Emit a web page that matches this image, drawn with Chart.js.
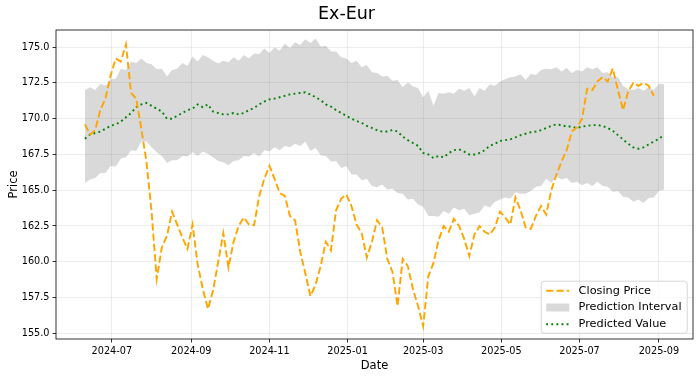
<!DOCTYPE html>
<html>
<head>
<meta charset="utf-8">
<script src="https://cdn.jsdelivr.net/npm/chart.js@4.4.1/dist/chart.umd.min.js"></script>
<style>
  body { margin: 0; background: #fff; }
  #wrap { width: 700px; height: 378px; }
</style>
</head>
<body>
<div id="wrap"><canvas id="chrt" width="700" height="378"></canvas></div>
<script>
// sample dates (every 4 days)
var dates = [
  "2024-06-10","2024-06-14","2024-06-18","2024-06-22","2024-06-26","2024-06-30",
  "2024-07-04","2024-07-08","2024-07-12","2024-07-16","2024-07-20","2024-07-24","2024-07-28",
  "2024-08-01","2024-08-05","2024-08-09","2024-08-13","2024-08-17","2024-08-21","2024-08-25","2024-08-29",
  "2024-09-02","2024-09-06","2024-09-10","2024-09-14","2024-09-18","2024-09-22","2024-09-26","2024-09-30",
  "2024-10-04","2024-10-08","2024-10-12","2024-10-16","2024-10-20","2024-10-24","2024-10-28",
  "2024-11-01","2024-11-05","2024-11-09","2024-11-13","2024-11-17","2024-11-21","2024-11-25","2024-11-29",
  "2024-12-03","2024-12-07","2024-12-11","2024-12-15","2024-12-19","2024-12-23","2024-12-27","2024-12-31",
  "2025-01-04","2025-01-08","2025-01-12","2025-01-16","2025-01-20","2025-01-24","2025-01-28",
  "2025-02-01","2025-02-05","2025-02-09","2025-02-13","2025-02-17","2025-02-21","2025-02-25",
  "2025-03-01","2025-03-05","2025-03-09","2025-03-13","2025-03-17","2025-03-21","2025-03-25","2025-03-29",
  "2025-04-02","2025-04-06","2025-04-10","2025-04-14","2025-04-18","2025-04-22","2025-04-26","2025-04-30",
  "2025-05-04","2025-05-08","2025-05-12","2025-05-16","2025-05-20","2025-05-24","2025-05-28",
  "2025-06-01","2025-06-05","2025-06-09","2025-06-13","2025-06-17","2025-06-21","2025-06-25","2025-06-29",
  "2025-07-03","2025-07-07","2025-07-11","2025-07-15","2025-07-19","2025-07-23","2025-07-27","2025-07-31",
  "2025-08-04","2025-08-08","2025-08-12","2025-08-16","2025-08-20","2025-08-24","2025-08-28",
  "2025-09-01","2025-09-05"
];

var closingPrice = [
  169.6,168.9,169.2,170.6,171.4,173.0,
  174.2,174.0,175.2,171.8,171.4,169.3,167.0,
  163.5,158.8,161.0,161.8,163.5,162.6,161.7,160.9,
  162.6,159.8,158.1,156.7,158.0,160.0,162.0,159.6,
  161.4,162.5,163.1,162.6,162.55,164.6,165.8,
  166.7,165.8,164.8,164.6,163.2,162.9,160.7,159.2,
  157.6,158.4,159.7,161.4,160.8,163.6,164.4,164.7,
  163.9,162.6,162.0,160.3,161.4,162.9,162.4,
  160.2,159.3,156.9,160.2,159.7,158.1,156.9,
  155.5,159.0,159.9,161.5,162.5,162.1,163.0,162.5,
  161.6,160.4,161.9,162.5,162.1,161.9,162.4,163.5,
  163.1,162.6,164.5,163.6,162.4,162.3,163.2,
  163.9,163.3,165.0,166.1,167.0,167.8,169.1,169.4,
  170.0,172.1,172.0,172.6,172.9,172.6,173.5,172.0,
  170.6,171.9,172.5,172.3,172.5,172.3,171.6,
  null,null
];

var upperBound = [
  172.0,172.2,172.0,172.45,172.3,172.75,
  172.8,173.5,173.4,174.0,173.9,174.2,173.9,
  173.8,173.45,173.5,172.95,173.4,173.5,173.9,173.7,
  174.35,174.0,174.45,174.3,174.05,173.85,174.05,173.95,
  174.3,174.05,174.45,174.2,174.55,174.5,174.9,
  174.6,175.0,174.75,175.25,174.95,175.35,175.15,175.55,
  175.3,175.6,175.05,175.1,174.7,174.7,174.3,174.2,
  173.9,174.05,173.6,173.75,173.25,173.2,172.95,
  173.0,172.65,172.7,172.2,172.55,172.25,172.15,
  171.5,171.95,170.9,171.8,171.75,171.85,171.75,172.1,
  171.95,172.15,171.55,172.15,171.95,172.4,172.3,172.6,
  172.75,172.9,172.95,173.1,172.7,173.15,173.05,
  173.4,173.5,173.45,173.6,173.3,173.55,173.2,173.4,
  173.3,173.6,173.45,173.6,173.2,173.25,172.9,172.9,
  172.3,172.05,172.0,172.15,171.95,172.2,172.0,
  172.45,172.4
];

var lowerBound = [
  165.5,165.75,165.85,166.2,166.2,166.7,
  166.65,167.2,167.3,167.8,167.75,168.4,168.4,
  168.0,167.65,167.4,166.9,167.1,167.1,167.4,167.35,
  167.65,167.4,167.7,167.55,167.3,167.05,166.95,166.75,
  167.05,167.1,167.4,167.35,167.6,167.35,167.8,
  167.7,168.0,167.8,168.1,168.0,168.25,168.1,168.4,
  167.75,167.95,167.45,167.4,167.0,167.05,166.55,166.7,
  166.1,166.1,165.7,165.8,165.3,165.2,165.4,
  165.05,165.1,164.8,164.75,164.35,164.4,164.0,
  163.85,163.2,163.2,163.15,163.55,163.35,163.8,163.6,
  163.7,163.25,163.35,163.45,163.95,163.8,164.2,164.35,
  164.5,164.4,164.85,164.75,164.75,164.95,165.25,
  165.3,165.8,165.5,165.95,165.75,165.85,165.5,165.6,
  165.35,165.5,165.3,165.6,165.3,165.25,164.9,164.95,
  164.55,164.5,164.2,164.35,164.1,164.45,164.5,
  164.95,165.05
];

var predictedValue = [
  168.6,168.9,169.0,169.1,169.3,169.5,
  169.6,169.8,170.1,170.4,170.8,171.0,171.1,
  170.9,170.7,170.5,170.0,170.0,170.2,170.4,170.6,
  170.7,171.0,170.8,171.0,170.5,170.4,170.3,170.3,
  170.4,170.3,170.4,170.6,170.75,171.0,171.2,
  171.35,171.4,171.5,171.6,171.7,171.75,171.8,171.85,
  171.7,171.5,171.3,171.0,170.85,170.6,170.4,170.2,
  170.0,169.85,169.7,169.5,169.35,169.2,169.1,
  169.1,169.2,169.1,168.75,168.5,168.3,168.1,
  167.6,167.5,167.25,167.4,167.3,167.6,167.8,167.85,
  167.7,167.5,167.5,167.6,167.8,168.1,168.25,168.45,
  168.5,168.55,168.7,168.85,168.95,169.05,169.1,
  169.2,169.35,169.5,169.6,169.55,169.45,169.45,169.35,
  169.45,169.5,169.55,169.55,169.5,169.35,169.15,168.85,
  168.55,168.25,168.0,167.9,168.0,168.2,168.4,
  168.6,168.85
];

var xTickLabels = ["2024-07","2024-09","2024-11","2025-01","2025-03","2025-05","2025-07","2025-09"];
var yTicks = [155.0,157.5,160.0,162.5,165.0,167.5,170.0,172.5,175.0];

function pts(vals) {
  return vals.map(function(v, i) { return { x: Date.parse(dates[i]), y: v }; });
}

var firstDay = Date.parse(dates[0]);
var lastDay = Date.parse(dates[dates.length - 1]);
var span = lastDay - firstDay;

var fontFam = "'DejaVu Sans', sans-serif";
var bandColor = "rgba(128,128,128,0.3)";

// matplotlib-like frame on all four sides
var frame = {
  id: 'frame',
  afterDatasetsDraw: function(chart) {
    var a = chart.chartArea, ctx = chart.ctx;
    ctx.save();
    ctx.strokeStyle = "#000";
    ctx.lineWidth = 0.8;
    ctx.strokeRect(a.left, a.top, a.right - a.left, a.bottom - a.top);
    ctx.restore();
  }
};

// legend box in the lower right corner of the plot
var legendBox = {
  id: 'legendBox',
  afterDraw: function(chart) {
    var a = chart.chartArea, ctx = chart.ctx;
    var w = 146, h = 52;
    var x0 = a.right - 5.8 - w, y0 = a.bottom - 5.8 - h;
    ctx.save();
    ctx.beginPath();
    ctx.roundRect(x0, y0, w, h, 3);
    ctx.fillStyle = "rgba(255,255,255,0.8)";
    ctx.fill();
    ctx.strokeStyle = "#cccccc";
    ctx.lineWidth = 0.8;
    ctx.stroke();

    var ds = chart.data.datasets;
    var items = [ds[0], ds[2], ds[3]];
    items.forEach(function(d, k) {
      var y = y0 + 9.5 + k * 16.8;
      if (d.fill) {
        ctx.fillStyle = d.backgroundColor;
        ctx.fillRect(x0 + 5, y - 4, 23, 8);
      } else {
        ctx.beginPath();
        ctx.setLineDash(d.borderDash);
        ctx.strokeStyle = d.borderColor;
        ctx.lineWidth = d.borderWidth;
        ctx.moveTo(x0 + 5, y);
        ctx.lineTo(x0 + 28, y);
        ctx.stroke();
        ctx.setLineDash([]);
      }
      ctx.fillStyle = "#000";
      ctx.font = "11.3px " + fontFam;
      ctx.textBaseline = "middle";
      ctx.textAlign = "left";
      ctx.fillText(d.label, x0 + 37.4, y);
    });
    ctx.restore();
  }
};

var ctx = document.getElementById("chrt").getContext('2d');
var myChart = new Chart(ctx, {
  type: 'line',
  data: {
    datasets: [{
      label: "Closing Price",
      data: pts(closingPrice),
      borderColor: "#FFA500",
      borderWidth: 1.9,
      borderDash: [7.2, 3.1],
      pointRadius: 0,
      fill: false,
      order: 0
    }, {
      label: "upper",
      data: pts(upperBound),
      borderColor: "rgba(0,0,0,0)",
      borderWidth: 0,
      pointRadius: 0,
      fill: false,
      order: 3
    }, {
      label: "Prediction Interval",
      data: pts(lowerBound),
      borderColor: "rgba(0,0,0,0)",
      borderWidth: 0,
      backgroundColor: bandColor,
      pointRadius: 0,
      fill: '-1',
      order: 2
    }, {
      label: "Predicted Value",
      data: pts(predictedValue),
      borderColor: "#008000",
      borderWidth: 1.9,
      borderDash: [1.9, 3.2],
      pointRadius: 0,
      fill: false,
      order: 1
    }]
  },
  options: {
    responsive: false,
    animation: false,
    devicePixelRatio: 1,
    layout: { padding: { left: 0, right: 7, top: 0, bottom: 0 } },
    plugins: {
      legend: { display: false },
      tooltip: { enabled: false },
      title: {
        display: true,
        text: "Ex-Eur",
        color: "#000",
        font: { family: fontFam, size: 17.5, weight: 'normal', lineHeight: 1.2 },
        padding: { top: 3.5, bottom: 5.5 }
      }
    },
    scales: {
      x: {
        type: 'linear',
        min: firstDay - 0.05 * span,
        max: lastDay + 0.05 * span,
        afterBuildTicks: function(s) {
          s.ticks = xTickLabels.map(function(l) { return { value: Date.parse(l + "-01") }; });
        },
        afterFit: function(s) { s.height = 39; },
        ticks: {
          autoSkip: false,
          maxRotation: 0,
          padding: 3,
          color: "#000",
          font: { family: fontFam, size: 9.7 },
          callback: function(v) {
            var d = new Date(v);
            return d.getUTCFullYear() + "-" + String(d.getUTCMonth() + 1).padStart(2, "0");
          }
        },
        grid: { color: "rgba(176,176,176,0.3)", lineWidth: 0.8, tickColor: "#000", tickLength: 3.5, tickWidth: 0.8 },
        border: { display: false },
        title: {
          display: true, text: "Date", color: "#000",
          font: { family: fontFam, size: 11.5, lineHeight: 1.2 },
          padding: { top: 0, bottom: 5 }
        }
      },
      y: {
        min: 154.6,
        max: 176.2,
        afterBuildTicks: function(s) {
          s.ticks = yTicks.map(function(v) { return { value: v }; });
        },
        afterFit: function(s) { s.width = 56; },
        ticks: {
          padding: 3,
          color: "#000",
          font: { family: fontFam, size: 9.7 },
          callback: function(v) { return v.toFixed(1); }
        },
        grid: { color: "rgba(176,176,176,0.3)", lineWidth: 0.8, tickColor: "#000", tickLength: 3.5, tickWidth: 0.8 },
        border: { display: false },
        title: {
          display: true, text: "Price", color: "#000",
          font: { family: fontFam, size: 11.5, lineHeight: 1.2 },
          padding: { top: 7, bottom: 0 }
        }
      }
    }
  },
  plugins: [frame, legendBox]
});
</script>
</body>
</html>
